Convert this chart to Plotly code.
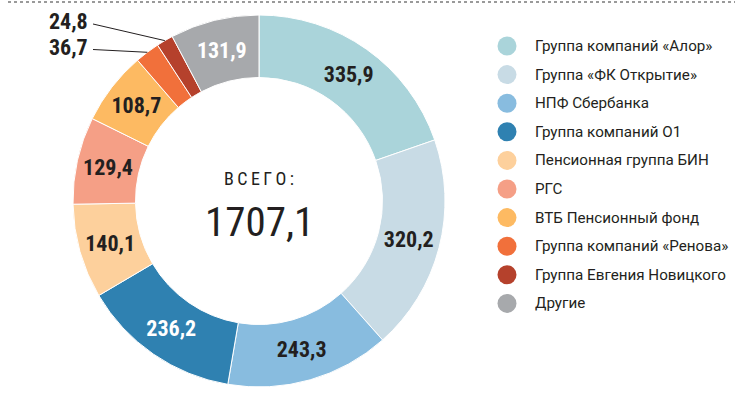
import math
import plotly.graph_objects as go

labels = ["Группа компаний «Алор»", "Группа «ФК Открытие»", "НПФ Сбербанка",
          "Группа компаний О1", "Пенсионная группа БИН", "РГС",
          "ВТБ Пенсионный фонд", "Группа компаний «Ренова»",
          "Группа Евгения Новицкого", "Другие"]
values = [335.9, 320.2, 243.3, 236.2, 140.1, 129.4, 108.7, 36.7, 24.8, 131.9]
colors = ["#aad4da", "#c8dbe5", "#88bcdf", "#2f81b1", "#fdd09c",
          "#f59f86", "#fdba62", "#f1703b", "#b5412c", "#a7a9ac"]
text_colors = ["#231f20", "#231f20", "#231f20", "#ffffff", "#231f20",
               "#231f20", "#231f20", "#231f20", "#231f20", "#ffffff"]
outside_idx = [7, 8]   # small slices labelled outside with leader lines
total_label = "1707,1"
center_caption = "ВСЕГО:"

W, H = 735, 402
CX, CY, R = 259, 201, 186   # donut centre / radius in pixels (layout)
HOLE = 0.664
FONT = "Liberation Sans Narrow, Roboto Condensed, Roboto, sans-serif"
LEG_FONT = "Roboto, sans-serif"

def fmt(v):
    return f"{v:.1f}".replace(".", ",")

texts = ["" if i in outside_idx else fmt(v) for i, v in enumerate(values)]

fig = go.Figure()
fig.add_trace(go.Pie(
    labels=labels, values=values, sort=False, direction="clockwise", rotation=0,
    hole=HOLE, marker=dict(colors=colors, line=dict(color="white", width=1)),
    text=texts, textinfo="text", textposition="inside",
    insidetextorientation="horizontal",
    textfont=dict(family=FONT, size=22, color=text_colors, weight="bold"),
    showlegend=False, hoverinfo="skip",
    domain=dict(x=[(CX - R) / W, (CX + R) / W], y=[(H - CY - R) / H, (H - CY + R) / H]),
))

shapes = []
annotations = []

# dotted rule at top
shapes.append(dict(type="line", xref="paper", yref="paper", x0=8 / W, x1=1, y0=(H - 2) / H, y1=(H - 2) / H,
                   line=dict(color="#9a9a9a", width=2, dash="dot")))

# leader lines for small slices
total = sum(values)
cum = 0
ends = {}
for i, v in enumerate(values):
    mid = (cum + v / 2) / total * 2 * math.pi
    cum += v
    if i in outside_idx:
        ex = CX + R * math.sin(mid)
        ey = CY - R * math.cos(mid)
        ends[i] = (ex, ey)

label_pos = {8: (68, 22), 7: (68, 47.5)}
for i in outside_idx:
    lx, ly = label_pos[i]
    ex, ey = ends[i]
    shapes.append(dict(type="line", xref="paper", yref="paper",
                       x0=(lx + 25) / W, y0=(H - ly - 2) / H, x1=ex / W, y1=(H - ey) / H,
                       line=dict(color="#231f20", width=1)))
    annotations.append(dict(xref="paper", yref="paper", x=lx / W, y=(H - ly) / H,
                            text=fmt(values[i]), showarrow=False, xanchor="center", yanchor="middle",
                            font=dict(family=FONT, size=22, color="#231f20", weight="bold")))

# centre text
annotations.append(dict(xref="paper", yref="paper", x=CX / W, y=(H - 178.5) / H,
                        text="\u2009".join(center_caption), showarrow=False,
                        font=dict(family=FONT, size=18, color="#231f20")))
annotations.append(dict(xref="paper", yref="paper", x=CX / W, y=(H - 222) / H,
                        text=total_label, showarrow=False,
                        font=dict(family=FONT, size=41, color="#231f20")))

# legend
for k, (lab, col) in enumerate(zip(labels, colors)):
    yc = 46 + k * 28.6
    shapes.append(dict(type="circle", xref="paper", yref="paper",
                       x0=(507 - 9.5) / W, x1=(507 + 9.5) / W,
                       y0=(H - yc - 9.5) / H, y1=(H - yc + 9.5) / H,
                       fillcolor=col, line=dict(width=0)))
    annotations.append(dict(xref="paper", yref="paper", x=533 / W, y=(H - yc) / H,
                            text=lab, showarrow=False, xanchor="left", yanchor="middle",
                            font=dict(family=LEG_FONT, size=15.2, color="#231f20")))

fig.update_layout(
    width=W, height=H, margin=dict(l=0, r=0, t=0, b=0),
    paper_bgcolor="white", plot_bgcolor="white",
    separators=", ",
    uniformtext=dict(minsize=22, mode="show"),
    shapes=shapes, annotations=annotations,
)
fig.write_html("out.html", config={"displayModeBar": False},
               post_script="document.body.style.margin='0';document.body.style.overflow='hidden';")
